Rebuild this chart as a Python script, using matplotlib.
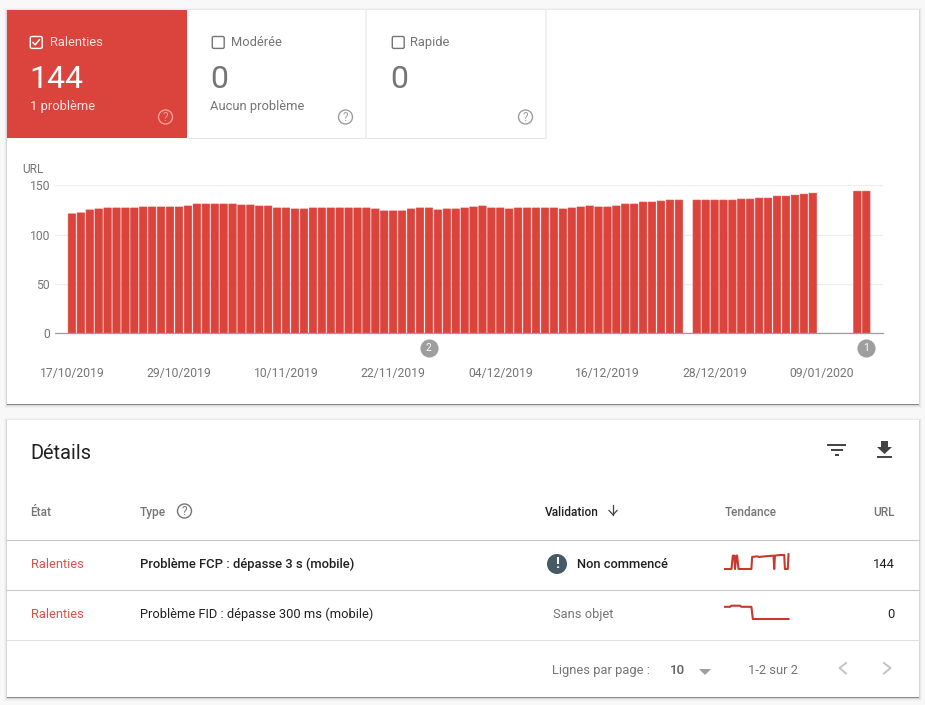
import matplotlib
matplotlib.use('Agg')
import matplotlib.pyplot as plt
from matplotlib.patches import Rectangle, Circle, FancyBboxPatch, Polygon

plt.rcParams['font.family'] = ['Roboto', 'DejaVu Sans']

# Daily URL counts, 0 means no data that day
urls_per_day = [121, 122, 125, 126, 127, 127, 127, 127, 128, 128, 128, 128, 128, 129, 131,
                131, 131, 131, 131, 130, 130, 129, 129, 127, 127, 126, 126, 127, 127, 127,
                127, 127, 127, 127, 126, 124, 124, 124, 126, 127, 127, 125, 126, 126, 127,
                128, 129, 127, 127, 126, 127, 127, 127, 127, 127, 126, 127, 128, 129, 128,
                128, 129, 131, 131, 133, 133, 134, 135, 135, 0, 135, 135, 135, 135, 135,
                136, 136, 137, 137, 139, 139, 140, 141, 142, 0, 0, 0, 0, 144, 144]
y_ticks = [0, 50, 100, 150]
date_ticks = [0, 12, 24, 36, 48, 60, 72, 84]
date_labels = ['17/10/2019', '29/10/2019', '10/11/2019', '22/11/2019',
               '04/12/2019', '16/12/2019', '28/12/2019', '09/01/2020']
note_days = [40, 89]
note_labels = ['2', '1']

# Sparklines in the table
fcp_days = [0, 9, 11, 13, 14, 16, 17, 19, 37, 38, 45, 48, 56, 68, 69, 70, 77, 83, 84, 88, 89]
fcp_urls = [0, 0, 131, 131, 0, 131, 131, 0, 0, 118, 124, 118, 124, 131, 0, 131, 137, 137, 0, 0, 144]
fid_days = [0, 7, 9, 21, 23, 37, 39, 89]
fid_urls = [11, 11, 12, 12, 11, 11, 0, 0]

RED = '#db443c'
GREY = '#757575'
DARK = '#212121'

fig = plt.figure(figsize=(9.25, 7.05), dpi=100, facecolor='#f8f8f8')

# Background axes in pixels for the cards and the table
ui = fig.add_axes([0, 0, 1, 1])
ui.set_xlim(0, 925)
ui.set_ylim(705, 0)
ui.axis('off')


def px_axes(left, top, right, bottom):
    return fig.add_axes([left / 925, 1 - bottom / 705, (right - left) / 925, (bottom - top) / 705])


def card(x0, y0, x1, y1):
    for grow, alpha in [(3, 0.02), (2, 0.04), (1, 0.07)]:
        ui.add_patch(Rectangle((x0 - grow, y0 - grow + 1), x1 - x0 + 2 * grow, y1 - y0 + 2 * grow,
                               fc='black', ec='none', alpha=alpha))
    ui.add_patch(Rectangle((x0, y0 + 1.2), x1 - x0, y1 - y0, fc='#8a8a8a', ec='none'))
    ui.add_patch(Rectangle((x0, y0), x1 - x0, y1 - y0, fc='white', ec='none'))


def label(x, y, s, size=9.3, color=GREY, ha='left', weight='normal'):
    ui.text(x, y + 1, s, fontsize=size, color=color, ha=ha, va='center', fontweight=weight)


def help_icon(x, y, color='#9e9e9e'):
    ui.add_patch(Circle((x, y), 7, fc='none', ec=color, lw=1.0))
    ui.text(x, y + 0.3, '?', fontsize=8.5, color=color, ha='center', va='center')


def checkbox(x, y, color):
    ui.add_patch(FancyBboxPatch((x + 1.5, y + 1.7), 9.5, 9.5, boxstyle='round,pad=1.2,rounding_size=1.5',
                                fc='none', ec=color, lw=1.0))


card(7, 10, 919, 404)
card(7, 420, 919, 697)

# Tiles at the top
ui.add_patch(Rectangle((7, 10), 180, 128, fc=RED, ec='none'))
ui.plot([187, 546], [137.5, 137.5], color='#e6e6e6', lw=0.75)
ui.plot([366, 366], [10, 137.5], color='#eeeeee', lw=1.2)
ui.plot([546, 546], [10, 137.5], color='#eeeeee', lw=1.2)

checkbox(30, 36, 'white')
ui.plot([33, 35.2, 39.3], [42.6, 44.8, 39.8], color='white', lw=1.1)
label(50, 41.5, 'Ralenties', 9.3, '#fbe3e1')
label(29.5, 79, '144', 23, 'white')
label(29.5, 105.5, '1 problème', 9.3, '#fbe3e1')
help_icon(165.5, 117, '#ee9f9a')

checkbox(212, 36, '#757575')
label(230.5, 41.5, 'Modérée', 9.3)
label(210, 79, '0', 23)
label(210.5, 105.5, 'Aucun problème', 9.3)
help_icon(345.5, 117)

checkbox(392, 36, '#757575')
label(410, 41.5, 'Rapide', 9.3)
label(390, 79, '0', 23)
help_icon(525.5, 117)

# Bar chart
ax = px_axes(55, 185.3, 883, 333.3)
ax.patch.set_alpha(0)
days = range(len(urls_per_day))
bars = ax.bar(days, urls_per_day, width=0.82, color=RED, edgecolor=RED, linewidth=0.5, zorder=3)
for bar in bars:
    bar.set_joinstyle('round')
    bar.set_snap(False)
ax.set_xlim(-1.89, 90.87)
ax.set_ylim(0, 150)
ax.set_yticks(y_ticks)
ax.set_xticks(date_ticks)
ax.set_xticklabels(date_labels)
ax.tick_params(axis='x', length=0, pad=24, labelsize=8.7, labelcolor=GREY)
ax.tick_params(axis='y', length=0, pad=3.5, labelsize=8.7, labelcolor=GREY)
ax.grid(axis='y', color='#eeeeee', lw=0.9, zorder=0)
ax.set_axisbelow(True)
for side in ['top', 'left', 'right']:
    ax.spines[side].set_visible(False)
ax.spines['bottom'].set_color('#9e9e9e')
ax.spines['bottom'].set_linewidth(0.9)
ax.spines['bottom'].set_zorder(4)
ax.scatter(note_days, [-0.096] * len(note_days), s=170, color='#9e9e9e', linewidths=0,
           transform=ax.get_xaxis_transform(), clip_on=False, zorder=5)
for day, note in zip(note_days, note_labels):
    ax.text(day, -0.096, note, transform=ax.get_xaxis_transform(), color='white', fontsize=7.5,
            ha='center', va='center', zorder=6)
label(22.5, 168.5, 'URL', 8.6)

# Details table
label(30, 452.5, 'Détails', 14.4, DARK)
ui.plot([827, 846], [444.8, 444.8], color='#424242', lw=1.4, solid_capstyle='butt')
ui.plot([830.5, 842.5], [450, 450], color='#424242', lw=1.4, solid_capstyle='butt')
ui.plot([835, 838.5], [455, 455], color='#424242', lw=1.4, solid_capstyle='butt')
ui.add_patch(Polygon([(881, 441), (888, 441), (888, 447), (892, 447), (884.5, 454), (877, 447), (881, 447)],
                     fc='#424242', ec='none'))
ui.plot([877, 892], [456.8, 456.8], color='#424242', lw=1.4, solid_capstyle='butt')

label(30.5, 511.5, 'État', 8.6, GREY, weight='medium')
label(140, 511.5, 'Type', 8.6, GREY, weight='medium')
help_icon(184.5, 511, '#757575')
label(545, 511.5, 'Validation', 8.6, DARK, weight='medium')
ui.plot([613, 613], [505, 514.5], color='#424242', lw=0.9)
ui.plot([609, 613, 617], [510.5, 514.8, 510.5], color='#424242', lw=0.9)
label(725, 511.5, 'Tendance', 8.5, GREY, weight='medium')
label(894.7, 511.5, 'URL', 8.6, GREY, ha='right', weight='medium')

ui.plot([7, 919], [540, 540], color='#c8c8c8', lw=0.75)
ui.plot([7, 919], [590, 590], color='#c8c8c8', lw=0.75)
ui.plot([7, 919], [640, 640], color='#e0e0e0', lw=0.75)

label(30.5, 563.5, 'Ralenties', 9.3, '#d9534a')
label(140, 563.5, 'Problème FCP : dépasse 3 s (mobile)', 9.35, DARK, weight='medium')
ui.add_patch(Circle((557, 564), 10, fc='#455a64', ec='none'))
ui.text(557, 563.7, '!', color='white', fontsize=10.5, fontweight='bold', ha='center', va='center')
label(577, 563.5, 'Non commencé', 9.3, DARK, weight='medium')
label(894.7, 563.5, '144', 9.3, DARK, ha='right')

label(30.5, 613.5, 'Ralenties', 9.3, '#d9534a')
label(140, 613.5, 'Problème FID : dépasse 300 ms (mobile)', 9.3, DARK)
label(553, 613.5, 'Sans objet', 9.3)
label(894.7, 613.5, '0', 9.3, DARK, ha='right')

# Sparklines
spark_fcp = px_axes(725, 554.3, 788.5, 569)
spark_fcp.plot(fcp_days, fcp_urls, color='#c5392e', lw=1.5, clip_on=False)
spark_fcp.set_xlim(0, 89)
spark_fcp.set_ylim(0, 144)
spark_fcp.axis('off')

spark_fid = px_axes(725, 605.7, 788.5, 619)
spark_fid.plot(fid_days, fid_urls, color='#c5392e', lw=1.5, clip_on=False)
spark_fid.set_xlim(0, 89)
spark_fid.set_ylim(0, 12)
spark_fid.axis('off')

# Pagination
label(552, 669.5, 'Lignes par page :', 9.25)
label(670, 669.5, '10', 9.6, '#616161', weight='medium')
ui.add_patch(Polygon([(699, 669), (711, 669), (705, 675)], fc='#9e9e9e', ec='none'))
label(748.5, 669.5, '1-2 sur 2', 9.3)
ui.plot([846, 839.5, 846], [663, 668, 673.5], color='#c4c4c4', lw=1.4)
ui.plot([884, 890.5, 884], [663, 668, 673.5], color='#c4c4c4', lw=1.4)

fig.savefig('out.png', dpi=100, facecolor=fig.get_facecolor())
